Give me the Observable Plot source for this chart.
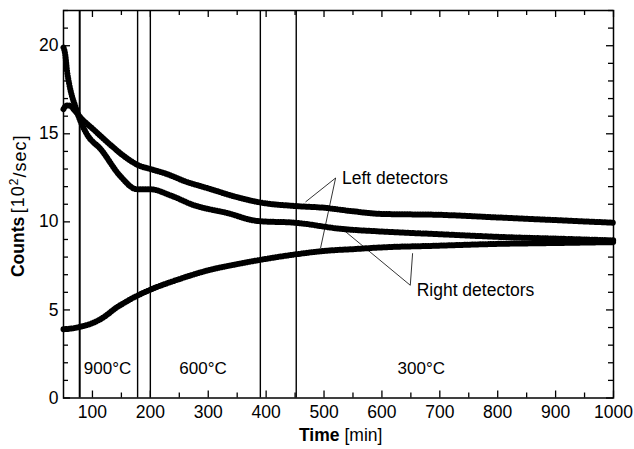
<!DOCTYPE html>
<html><head><meta charset="utf-8">
<script src="https://cdn.jsdelivr.net/npm/d3@7"></script>
<script src="https://cdn.jsdelivr.net/npm/@observablehq/plot@0.6"></script>
<style>body{margin:0;background:#fff} svg{display:block}</style>
</head><body><div id="chart"></div>
<script>
// Upper curve (left detectors)
const upperTime   = [50, 55, 60, 70, 80, 100, 130, 160, 180, 200, 230, 260, 300, 350, 390, 450, 500, 550, 600, 700, 800, 900, 1000];
const upperCounts = [16.4, 16.6, 16.6, 16.3, 15.9, 15.3, 14.4, 13.6, 13.2, 13.0, 12.7, 12.3, 11.9, 11.4, 11.1, 10.9, 10.8, 10.6, 10.45, 10.4, 10.25, 10.1, 9.95];
// Middle curve (right detectors)
const middleTime   = [50, 53, 56, 60, 65, 70, 76, 90, 115, 148, 177, 200, 235, 275, 333, 385, 450, 530, 600, 700, 800, 900, 1000];
const middleCounts = [19.9, 19.5, 18.6, 17.8, 17.1, 16.6, 16.0, 15.0, 14.1, 12.6, 11.85, 11.85, 11.5, 10.95, 10.5, 10.05, 9.95, 9.6, 9.45, 9.3, 9.15, 9.05, 8.95];
// Lower curve (left and right detectors)
const lowerTime   = [50, 65, 80, 100, 120, 140, 160, 180, 200, 250, 300, 350, 400, 450, 500, 550, 600, 700, 800, 900, 1000];
const lowerCounts = [3.9, 3.95, 4.05, 4.25, 4.6, 5.1, 5.5, 5.85, 6.15, 6.75, 7.25, 7.6, 7.9, 8.15, 8.35, 8.45, 8.55, 8.65, 8.75, 8.8, 8.85];

// Temperature-change markers
const phaseLines = [78, 178, 200, 390, 452];
const tempLabels = ["900°C", "600°C", "300°C"];
const tempX = [126, 291, 668];
const tempY = [1.7, 1.7, 1.7];

// Annotations
const annoText = ["Left detectors", "Right detectors"];
const annoX = [531, 660];
const annoY = [12.47, 6.12];
const leaderX1 = [520, 520, 649, 649];
const leaderY1 = [12.49, 12.49, 6.4, 6.4];
const leaderX2 = [468, 494, 534, 653];
const leaderY2 = [11.13, 8.51, 9.53, 8.22];

const xDomain = [50, 1000];
const yDomain = [0, 22];
const xMajor = d3.range(100, 1001, 100);
const xMinor = d3.range(150, 1000, 100);
const yMajor = [0, 5, 10, 15, 20];
const yMinor = d3.range(1, 23).filter(v => v % 5 !== 0);

const series = [
  ...upperTime.map((t, i) => ({t, c: upperCounts[i], s: "upper"})),
  ...middleTime.map((t, i) => ({t, c: middleCounts[i], s: "middle"})),
  ...lowerTime.map((t, i) => ({t, c: lowerCounts[i], s: "lower"}))
];
const temps = tempLabels.map((l, i) => ({l, x: tempX[i], y: tempY[i]}));
const annos = annoText.map((l, i) => ({l, x: annoX[i], y: annoY[i]}));
const leaders = leaderX1.map((x1, i) => ({x1, y1: leaderY1[i], x2: leaderX2[i], y2: leaderY2[i]}));

const font = "'Liberation Sans', Arial, Helvetica, sans-serif";
const W = 634, H = 449, ML = 63, MR = 21, MT = 10, MB = 51.5;
const FW = W - ML - MR, FH = H - MT - MB;
// tick lengths in pixels converted to data units
const ky = (yDomain[1] - yDomain[0]) / FH, kx = (xDomain[1] - xDomain[0]) / FW;
const tickMarks = (len, vals, axis) => axis === "x"
  ? [Plot.ruleX(vals, {x: d => d, y1: yDomain[0], y2: yDomain[0] + len * ky, stroke: "#000", strokeWidth: 1.3}),
     Plot.ruleX(vals, {x: d => d, y1: yDomain[1] - len * ky, y2: yDomain[1], stroke: "#000", strokeWidth: 1.3})]
  : [Plot.ruleY(vals, {y: d => d, x1: xDomain[0], x2: xDomain[0] + len * kx, stroke: "#000", strokeWidth: 1.3}),
     Plot.ruleY(vals, {y: d => d, x1: xDomain[1] - len * kx, x2: xDomain[1], stroke: "#000", strokeWidth: 1.3})];

const chart = Plot.plot({
  width: W,
  height: H,
  marginLeft: ML,
  marginRight: MR,
  marginTop: MT,
  marginBottom: MB,
  style: {fontFamily: font, fontSize: "17px", color: "#000", background: "#fff"},
  x: {domain: xDomain},
  y: {domain: yDomain},
  marks: [
    Plot.ruleX(phaseLines, {stroke: "#000", strokeWidth: (d, i) => i === 0 ? 2 : 1.4}),
    Plot.line(series, {x: "t", y: "c", z: "s", stroke: "#000", strokeWidth: 3.4, curve: "monotone-x"}),
    Plot.line(series, {x: "t", y: "c", z: "s", stroke: "#000", strokeWidth: 6, strokeDasharray: "0.4 2.2", curve: "monotone-x"}),
    Plot.link(leaders, {x1: "x1", y1: "y1", x2: "x2", y2: "y2", stroke: "#000", strokeWidth: 0.8}),
    Plot.text(annos, {x: "x", y: "y", text: "l", textAnchor: "start", fontSize: 17.5}),
    Plot.text(temps, {x: "x", y: "y", text: "l", fontSize: 17}),
    ...tickMarks(7, xMajor, "x"),
    ...tickMarks(5, xMinor, "x"),
    ...tickMarks(7, yMajor, "y"),
    ...tickMarks(5, yMinor, "y"),
    Plot.axisX(xMajor, {anchor: "bottom", tickSize: 0, tickPadding: 8, label: null, fontSize: 17.5, tickFormat: d => String(d)}),
    Plot.axisY(yMajor, {anchor: "left", tickSize: 0, tickPadding: 5, label: null, fontSize: 17.5, tickFormat: d => String(d)}),
    Plot.frame({stroke: "#000", strokeWidth: 1.5}),
    // axis titles
    Plot.text(["Time"], {frameAnchor: "bottom", text: d => d, textAnchor: "end", dx: 1, dy: 42.5, fontWeight: "bold", fontSize: 17.5}),
    Plot.text(["[min]"], {frameAnchor: "bottom", text: d => d, textAnchor: "start", dx: 6, dy: 42.5, fontSize: 17.5}),
    Plot.text(["Counts"], {frameAnchor: "left", text: d => d, textAnchor: "end", rotate: -90, dx: -45.5, dy: 12.5, fontWeight: "bold", fontSize: 17.5}),
    Plot.text(["[10²/sec]"], {frameAnchor: "left", text: d => d, textAnchor: "start", rotate: -90, dx: -45.5, dy: 9, fontSize: 18})
  ]
});
document.getElementById("chart").appendChild(chart);
// superscript and spacing for the unit label
d3.select(chart).selectAll("text").filter(function() { return this.textContent === "[10²/sec]"; })
  .each(function() {
    const t = d3.select(this);
    t.text(null).style("letter-spacing", "1px");
    t.append("tspan").text("[10");
    t.append("tspan").attr("dy", "-0.45em").attr("font-size", "12").text("2");
    t.append("tspan").attr("dy", "0.45em").text("/sec]");
  });
</script>
</body></html>
